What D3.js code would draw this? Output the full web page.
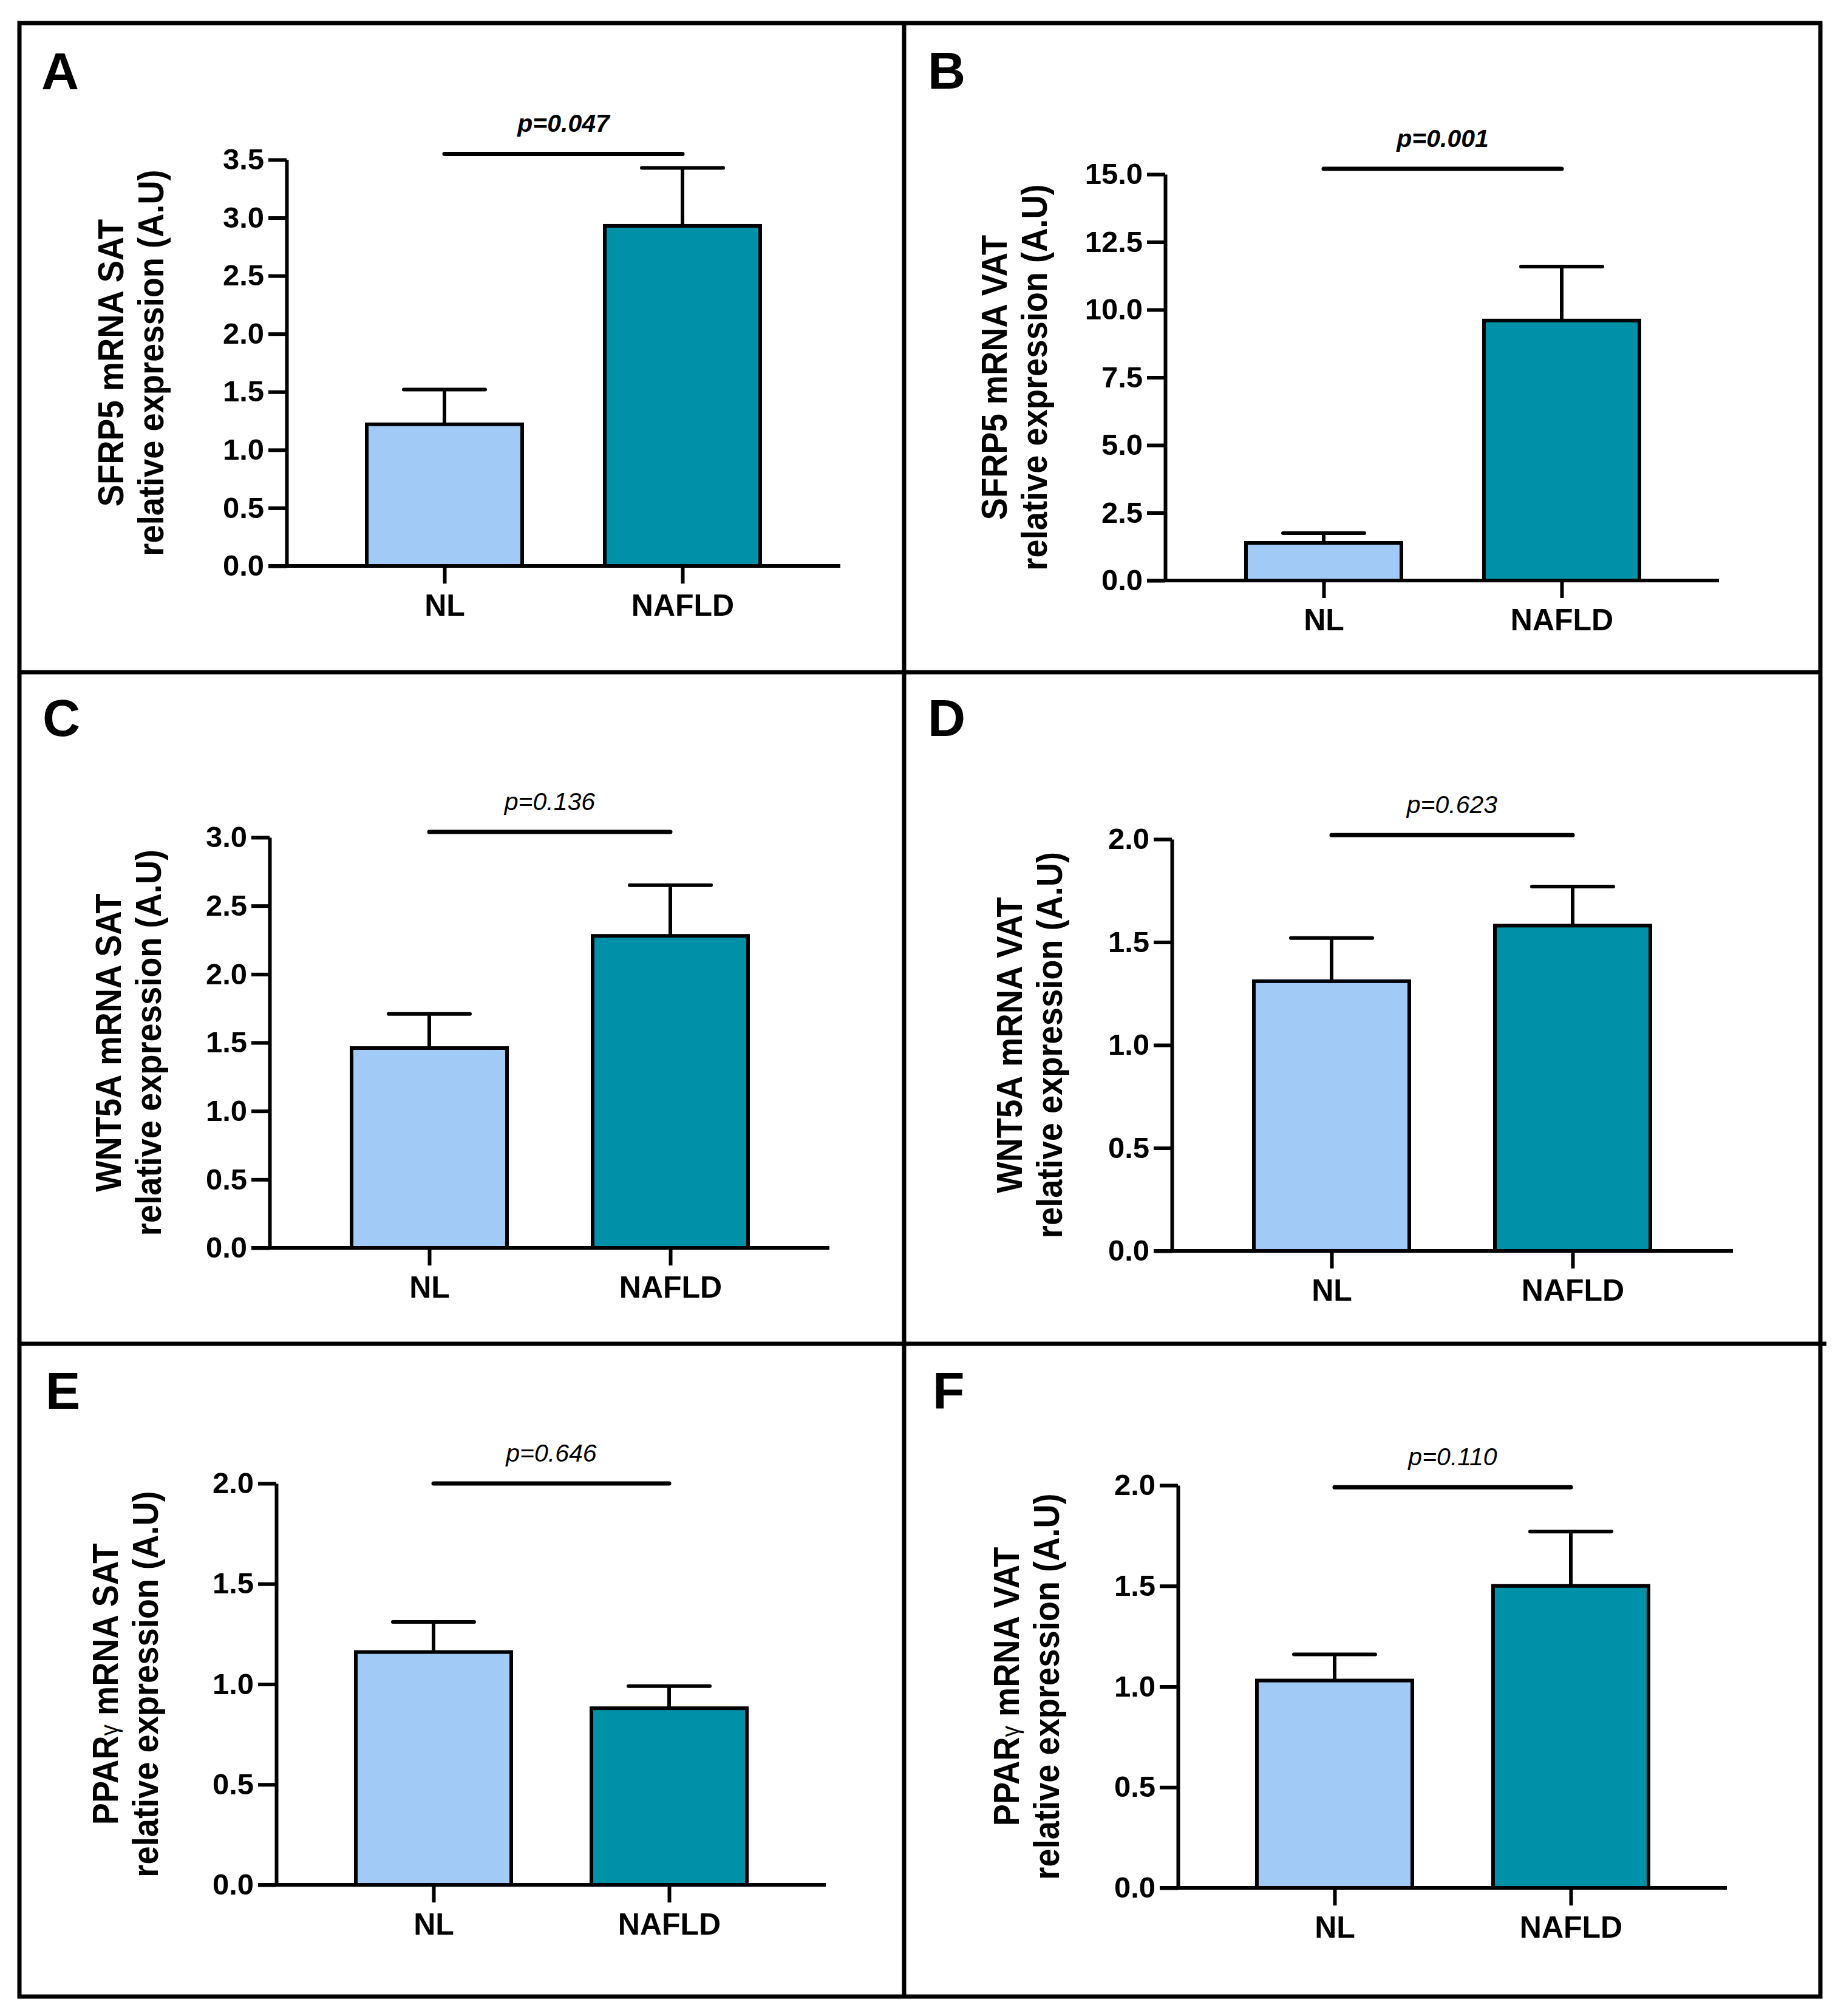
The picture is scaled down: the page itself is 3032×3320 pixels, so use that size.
<!DOCTYPE html>
<html>
<head>
<meta charset="utf-8">
<script src="https://cdn.jsdelivr.net/npm/d3@7"></script>
<style>
  body { margin: 0; background: #fff; }
  text { font-family: "Liberation Sans", Arial, Helvetica, sans-serif; }
</style>
</head>
<body>
<svg id="fig" width="3032" height="3320"></svg>
<script>
// ---- data ----
const panelLetters = ["A", "B", "C", "D", "E", "F"];
const genes = ["SFRP5", "SFRP5", "WNT5A", "WNT5A", "PPARγ", "PPARγ"];
const depots = ["SAT", "VAT", "SAT", "VAT", "SAT", "VAT"];
const groups = ["NL", "NAFLD"];
const nlMean = [1.22, 1.39, 1.46, 1.31, 1.16, 1.03];
const nlSem = [0.30, 0.36, 0.25, 0.21, 0.15, 0.13];
const nafldMean = [2.93, 9.60, 2.28, 1.58, 0.88, 1.50];
const nafldSem = [0.50, 1.99, 0.37, 0.19, 0.11, 0.27];
const yMax = [3.5, 15, 3.0, 2.0, 2.0, 2.0];
const yStep = [0.5, 2.5, 0.5, 0.5, 0.5, 0.5];
const pValues = ["0.047", "0.001", "0.136", "0.623", "0.646", "0.110"];
const bracketY = [3.55, 15.2, 3.04, 2.02, 2.0, 1.99];

const colors = { NL: "#a1cbf6", NAFLD: "#0090a8" };

// panel placement (pixels)
const layout = [
  { axisX: 472,  xEnd: 1384, yTop: 263,  y0: 932,  c: [732, 1124],  title: 203,  letter: [68, 147] },
  { axisX: 1919, xEnd: 2831, yTop: 287,  y0: 956,  c: [2180, 2572], title: 1658, letter: [1528, 146] },
  { axisX: 444,  xEnd: 1366, yTop: 1379, y0: 2055, c: [707, 1104],  title: 199,  letter: [70, 1212] },
  { axisX: 1930, xEnd: 2854, yTop: 1382, y0: 2060, c: [2193, 2590], title: 1683, letter: [1528, 1212] },
  { axisX: 455,  xEnd: 1360, yTop: 2443, y0: 3104, c: [714, 1102],  title: 194,  letter: [75, 2320] },
  { axisX: 1940, xEnd: 2844, yTop: 2446, y0: 3109, c: [2198, 2587], title: 1678, letter: [1536, 2320] }
];

const barW = 256, capW = 134, lw = 6;

const svg = d3.select("#fig");
svg.append("rect").attr("width", 3032).attr("height", 3320).attr("fill", "#fff");

layout.forEach((L, i) => {
  const g = svg.append("g");
  const y = d3.scaleLinear().domain([0, yMax[i]]).range([L.y0, L.yTop]);
  const x = d3.scalePoint().domain(groups).range(L.c);
  const means = [nlMean[i], nafldMean[i]];
  const sems = [nlSem[i], nafldSem[i]];

  // error bars (upper only)
  groups.forEach((grp, j) => {
    const top = y(means[j] + sems[j]);
    g.append("line")
      .attr("x1", x(grp)).attr("x2", x(grp))
      .attr("y1", y(means[j])).attr("y2", top)
      .attr("stroke", "#000").attr("stroke-width", lw);
    g.append("line")
      .attr("x1", x(grp) - capW / 2).attr("x2", x(grp) + capW / 2)
      .attr("y1", top).attr("y2", top)
      .attr("stroke", "#000").attr("stroke-width", lw).attr("stroke-linecap", "round");
  });

  // bars
  g.selectAll("rect.bar")
    .data(groups)
    .join("rect")
    .attr("class", "bar")
    .attr("x", d => x(d) - barW / 2)
    .attr("y", (d, j) => y(means[j]))
    .attr("width", barW)
    .attr("height", (d, j) => y(0) - y(means[j]))
    .attr("fill", d => colors[d])
    .attr("stroke", "#000")
    .attr("stroke-width", lw);

  // y axis
  const ticks = d3.range(0, yMax[i] + yStep[i] / 2, yStep[i]);
  const yAxis = g.append("g")
    .attr("transform", `translate(${L.axisX},0)`)
    .call(d3.axisLeft(y).tickValues(ticks).tickFormat(d3.format(".1f"))
      .tickSize(30).tickSizeOuter(0).tickPadding(7));
  yAxis.select(".domain").attr("stroke-width", lw);
  yAxis.selectAll(".tick line").attr("stroke-width", lw);
  yAxis.selectAll(".tick text")
    .attr("font-size", 49).attr("font-weight", "bold")
    .attr("font-family", "'Liberation Sans', Arial, sans-serif").attr("fill", "#000");

  // x axis
  g.append("line")
    .attr("x1", L.axisX - 30).attr("x2", L.xEnd)
    .attr("y1", L.y0).attr("y2", L.y0)
    .attr("stroke", "#000").attr("stroke-width", lw);
  const xAxis = g.append("g")
    .attr("transform", `translate(0,${L.y0})`)
    .call(d3.axisBottom(x).tickSize(29).tickPadding(17));
  xAxis.select(".domain").remove();
  xAxis.selectAll(".tick line").attr("stroke-width", lw);
  xAxis.selectAll(".tick text")
    .attr("font-size", 50).attr("font-weight", "bold")
    .attr("font-family", "'Liberation Sans', Arial, sans-serif").attr("fill", "#000");

  // significance bracket
  const by = y(bracketY[i]);
  g.append("line")
    .attr("x1", x("NL")).attr("x2", x("NAFLD"))
    .attr("y1", by).attr("y2", by)
    .attr("stroke", "#000").attr("stroke-width", 7).attr("stroke-linecap", "round");
  g.append("text")
    .attr("x", (x("NL") + x("NAFLD")) / 2)
    .attr("y", by - 36)
    .attr("text-anchor", "middle")
    .attr("font-size", 41)
    .attr("font-style", "italic")
    .attr("font-weight", +pValues[i] < 0.05 ? "bold" : "normal")
    .text("p=" + pValues[i]);

  // y axis title (two lines)
  const yc = (L.y0 + L.yTop) / 2;
  const t1 = g.append("text")
    .attr("transform", `translate(${L.title},${yc}) rotate(-90) scale(0.92,1)`)
    .attr("text-anchor", "middle")
    .attr("font-size", 59)
    .attr("font-weight", "bold");
  const gene = genes[i];
  if (gene.endsWith("γ")) {
    t1.append("tspan").text(gene.slice(0, -1));
    t1.append("tspan").attr("font-size", 40).attr("font-weight", "normal").text("γ");
  } else {
    t1.append("tspan").text(gene);
  }
  t1.append("tspan").text(" mRNA " + depots[i]);

  g.append("text")
    .attr("transform", `translate(${L.title + 66},${yc}) rotate(-90) scale(0.92,1)`)
    .attr("text-anchor", "middle")
    .attr("font-size", 59)
    .attr("font-weight", "bold")
    .text("relative expression (A.U)");

  // panel letter
  g.append("text")
    .attr("x", L.letter[0]).attr("y", L.letter[1])
    .attr("font-size", 86).attr("font-weight", "bold")
    .text(panelLetters[i]);
});

// panel frame
const frame = svg.append("g").attr("stroke", "#000").attr("stroke-width", 7).attr("fill", "none");
frame.append("rect").attr("x", 32).attr("y", 38).attr("width", 2966).attr("height", 3250);
frame.append("line").attr("x1", 1489).attr("x2", 1489).attr("y1", 38).attr("y2", 3288);
frame.append("line").attr("x1", 32).attr("x2", 2998).attr("y1", 1107).attr("y2", 1107);
frame.append("line").attr("x1", 32).attr("x2", 3008).attr("y1", 2213).attr("y2", 2213);
</script>
</body>
</html>
